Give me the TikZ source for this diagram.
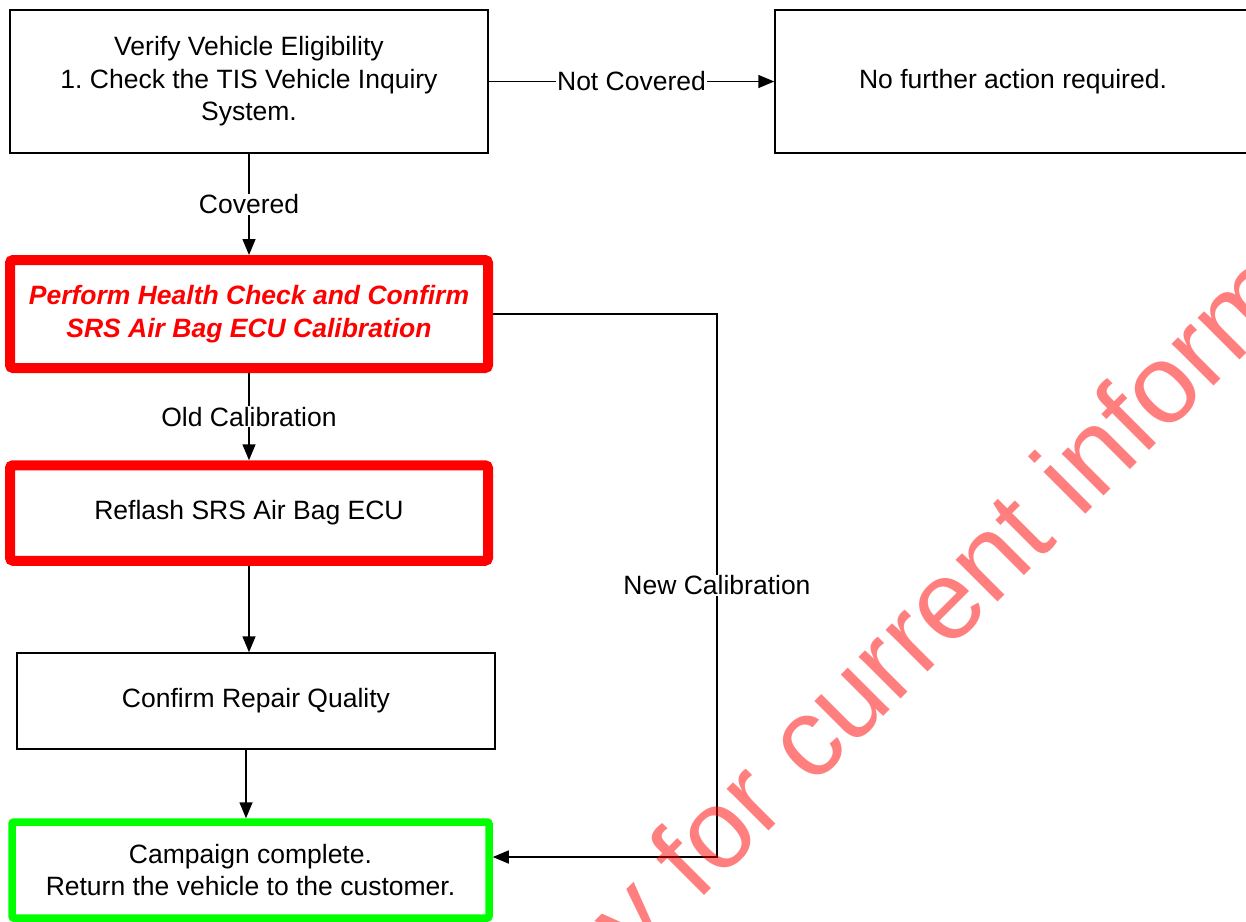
\documentclass[tikz,border=0pt]{standalone}
\usepackage{fontspec}
\setmainfont{Liberation Sans}
\usetikzlibrary{arrows.meta}
\frenchspacing

\begin{document}
\begin{tikzpicture}[x=1pt, y=-1pt, >={Triangle[length=16pt,width=13pt]}]
    \tikzset{box/.style={draw, line width=1.5pt, align=center, inner sep=0pt,
                         minimum width=478pt, minimum height=96pt,
                         font=\fontsize{26.5}{32.5}\selectfont},
             redbox/.style={box, draw=red, line width=10pt, rounded corners=3pt},
             greenbox/.style={box, draw=green, line width=7.5pt, rounded corners=2pt},
             lbl/.style={fill=white, inner sep=1pt, font=\fontsize{26.5}{32.5}\selectfont},
             link/.style={line width=1.5pt}}
    \useasboundingbox (0,0) rectangle (1246,921);

    \node[box, minimum height=143pt] (verify) at (249,81.5)
        {Verify Vehicle Eligibility\\1. Check the TIS Vehicle Inquiry\\System.};
    \node[box, minimum width=476pt, minimum height=143pt] (noaction) at (1013,81.5)
        {No further action required.};
    \node[redbox, minimum height=108pt, text=red,
          font=\fontsize{26.5}{32.5}\selectfont\bfseries\itshape] (health) at (249,314)
        {Perform Health Check and Confirm\\SRS Air Bag ECU Calibration};
    \node[redbox, minimum height=95.5pt] (reflash) at (249,513) {Reflash SRS Air Bag ECU};
    \node[box] (quality) at (256,701) {Confirm Repair Quality};
    \node[greenbox, minimum width=477pt] (done) at (250.5,870)
        {Campaign complete.\\Return the vehicle to the customer.};
    \coordinate (newcal) at (717,857);

    \draw[link,->] (verify) -- node[lbl] {Not Covered} (noaction);
    \draw[link,->] (verify) -- node[lbl] {Covered} (health);
    \draw[link,->] (health) -- node[lbl] {Old Calibration} (reflash);
    \draw[link,->] (reflash.south) -- (reflash.south |- quality.north);
    \draw[link,->] ([xshift=-10pt]quality.south) -- ([xshift=-10pt]quality.south |- done.north);
    \draw[link,->] (health.east) -| node[lbl, pos=0.75] {New Calibration} (newcal) -- (newcal -| done.east);

    % watermark
    \begin{scope}
        \clip (0,0) rectangle (1246,921);
        \node[rotate=45, anchor=base west, text=red, text opacity=0.5, inner sep=0pt,
              font=\fontsize{112}{112}\selectfont] (mark) at (636,964) {y for current information};
    \end{scope}
\end{tikzpicture}
\end{document}
